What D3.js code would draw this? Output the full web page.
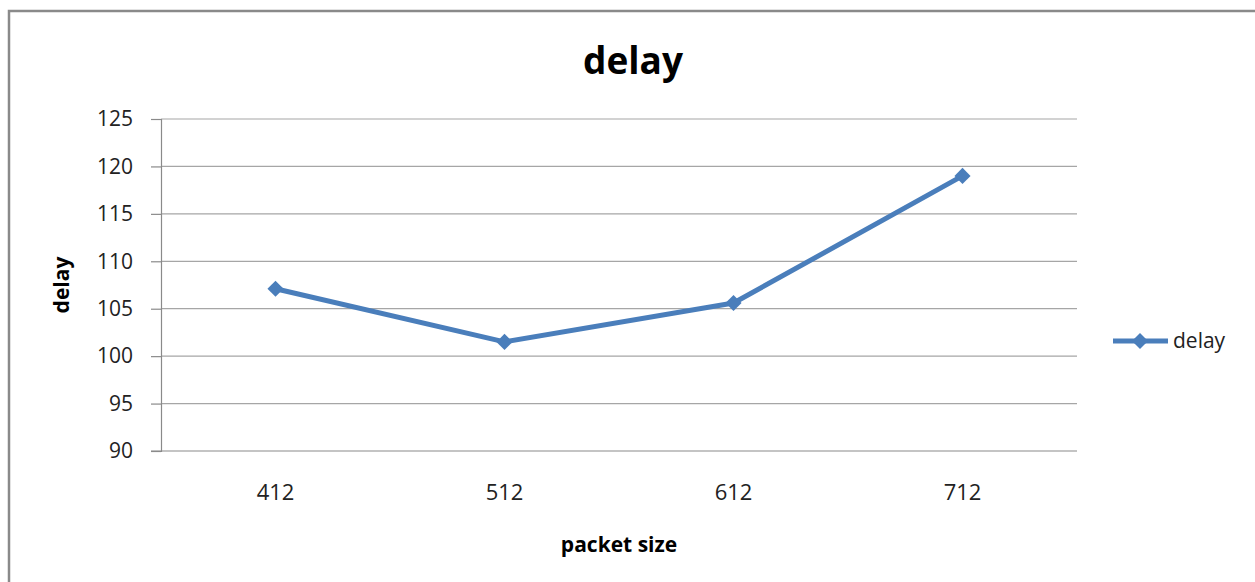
<!DOCTYPE html>
<html>
<head>
<meta charset="utf-8">
<script src="https://cdn.jsdelivr.net/npm/d3@7"></script>
<style>
  html, body { margin: 0; padding: 0; background: #fff; }
  svg { display: block; }
</style>
</head>
<body>
<svg id="chart" width="1255" height="582"></svg>
<script>
const categories = ["412", "512", "612", "712"];
const delayValues = [107.1, 101.5, 105.6, 119.0];
const yTicks = [90, 95, 100, 105, 110, 115, 120, 125];
const seriesName = "delay";
const chartTitle = "delay";
const xTitle = "packet size";
const yTitle = "delay";

const svg = d3.select("#chart");
const W = 1255, H = 582;
const font = "'Open Sans', 'DejaVu Sans', sans-serif";

// outer chart border
svg.append("rect")
  .attr("x", 9).attr("y", 11)
  .attr("width", W + 20).attr("height", H + 20)
  .attr("fill", "#fff")
  .attr("stroke", "#8a8a8a").attr("stroke-width", 2.5);

const plot = { left: 161, top: 119, right: 1077, bottom: 451 };

const x = d3.scaleBand().domain(categories).range([plot.left, plot.right]);
const y = d3.scaleLinear().domain([90, 125]).range([plot.bottom, plot.top]);

// gridlines
svg.append("g")
  .selectAll("line")
  .data(yTicks.filter(t => t !== 90))
  .join("line")
  .attr("x1", plot.left).attr("x2", plot.right)
  .attr("y1", d => y(d)).attr("y2", d => y(d))
  .attr("stroke", "#a6a6a6").attr("stroke-width", 1.2);

// y axis
const yAxis = d3.axisLeft(y).tickValues(yTicks).tickSize(10).tickPadding(18).tickFormat(d3.format("d"));
const gy = svg.append("g").attr("transform", `translate(${plot.left},0)`).call(yAxis);
gy.select(".domain").attr("stroke", "#8a8a8a").attr("stroke-width", 1.2);
gy.selectAll(".tick line").attr("stroke", "#8a8a8a").attr("stroke-width", 1.2);
gy.selectAll(".tick text")
  .attr("font-family", font).attr("font-size", 21).attr("fill", "#222");

// x axis
const xAxis = d3.axisBottom(x).tickSize(0).tickPadding(33);
const gx = svg.append("g").attr("transform", `translate(0,${plot.bottom})`).call(xAxis);
gx.select(".domain").attr("stroke", "#8a8a8a").attr("stroke-width", 1.2)
  .attr("d", `M${plot.left - 10},0H${plot.right}`);
gx.selectAll(".tick text")
  .attr("font-family", font).attr("font-size", 22).attr("fill", "#222");

// line
const pts = categories.map((c, i) => [x(c) + x.bandwidth() / 2, y(delayValues[i])]);
svg.append("path")
  .attr("d", d3.line()(pts))
  .attr("fill", "none")
  .attr("stroke", "#4a7ebb").attr("stroke-width", 5)
  .attr("stroke-linejoin", "round");

const diamond = d3.symbol().type(d3.symbolSquare).size(130);
svg.append("g").selectAll("path")
  .data(pts)
  .join("path")
  .attr("transform", d => `translate(${d[0]},${d[1]}) rotate(45)`)
  .attr("d", diamond)
  .attr("fill", "#4a7ebb");

// title
svg.append("text")
  .attr("x", 633).attr("y", 74)
  .attr("text-anchor", "middle")
  .attr("font-family", font).attr("font-weight", "bold").attr("font-size", 37)
  .attr("fill", "#000")
  .text(chartTitle);

// x title
svg.append("text")
  .attr("x", (plot.left + plot.right) / 2).attr("y", 552)
  .attr("text-anchor", "middle")
  .attr("font-family", font).attr("font-weight", "bold").attr("font-size", 21)
  .attr("fill", "#000")
  .text(xTitle);

// y title
svg.append("text")
  .attr("transform", `translate(69,285) rotate(-90)`)
  .attr("text-anchor", "middle")
  .attr("font-family", font).attr("font-weight", "bold").attr("font-size", 21)
  .attr("fill", "#000")
  .text(yTitle);

// legend
const lg = svg.append("g").attr("transform", "translate(1113,341)");
lg.append("line").attr("x1", 0).attr("x2", 55).attr("y1", 0).attr("y2", 0)
  .attr("stroke", "#4a7ebb").attr("stroke-width", 5);
lg.append("path").attr("transform", "translate(27,0) rotate(45)").attr("d", diamond).attr("fill", "#4a7ebb");
lg.append("text").attr("x", 60).attr("y", 0).attr("dy", "0.35em")
  .attr("font-family", font).attr("font-size", 21).attr("fill", "#222")
  .text(seriesName);
</script>
</body>
</html>
